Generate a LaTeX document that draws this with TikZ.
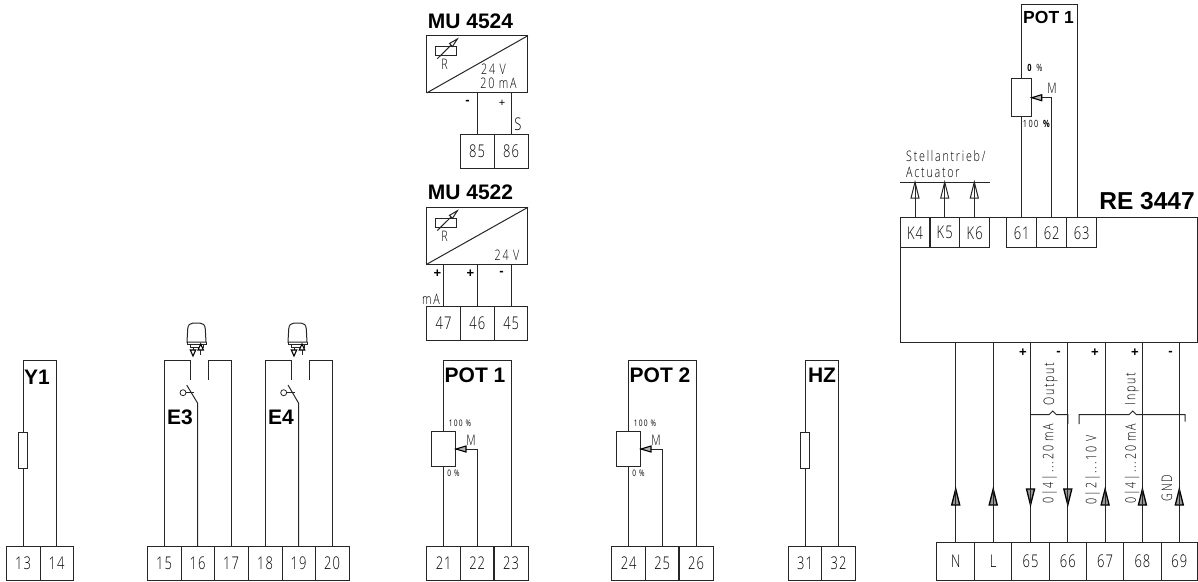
\documentclass[tikz,border=0pt]{standalone}
\usepackage{fontspec}
\setmainfont{Liberation Sans}
\newfontfamily\din[FakeStretch=0.74,LetterSpace=6]{Open Sans Light}
\newfontfamily\dinw[FakeStretch=0.74,LetterSpace=12]{Open Sans Light}
\newfontfamily\dinb[FakeStretch=0.74,LetterSpace=14]{Open Sans}
\begin{document}
\begin{tikzpicture}[x=1pt,y=-1pt,
  wire/.style={line width=1pt,color=black!85,line join=miter},
  term/.style={draw=black!85,line width=1pt,inner sep=0pt,outer sep=0pt,font=\din\fontsize{17.5}{18}\selectfont},
  part/.style={draw=black!85,line width=1pt,inner sep=0pt,outer sep=0pt,fill=white},
  title/.style={inner sep=0pt,font=\bfseries\fontsize{21}{22}\selectfont},
  small/.style={inner sep=0pt,font=\dinw\fontsize{14.5}{15}\selectfont},
  tiny/.style={inner sep=0pt,font=\dinb\fontsize{9}{9}\selectfont},
  sign/.style={inner sep=0pt,font=\bfseries\fontsize{13}{13}\selectfont},
  rot/.style={inner sep=0pt,rotate=90,font=\dinw\fontsize{14.5}{15}\selectfont},
  tip/.style={line width=1.3pt,color=black,line join=miter,fill=black!40},
  tipfine/.style={line width=1.1pt,color=black,line join=miter,fill=black!30}]
\useasboundingbox (0,0) rectangle (1198,581);
\newcommand{\mkterm}[6]{\node[term,minimum width=#3,minimum height=#4] (#1) at (#5,#6) {#2};}
\newcommand{\tup}[2]{\draw[tip] (#1,#2) -- ++(4,16) -- ++(-8,0) -- cycle; \draw[wire] (#1,#2) -- ++(0,16);}
\newcommand{\tdn}[2]{\draw[tip] (#1,#2) -- ++(4,-16) -- ++(-8,0) -- cycle; \draw[wire] (#1,#2) -- ++(0,-16);}
\newcommand{\tupthin}[2]{\draw[wire] (#1,#2) -- ++(4,16) -- ++(-8,0) -- cycle;}
\newcommand{\tlf}[2]{\draw[tipfine] (#1,#2) -- ++(10,-3) -- ++(0,6) -- cycle;}

% ---- Y1
\mkterm{t13}{13}{34}{34}{23}{563}
\mkterm{t14}{14}{33}{34}{56.5}{563}
\coordinate (y1a) at (23,360); \coordinate (y1b) at (56.5,360);
\node[part,minimum width=9,minimum height=36] (ry1) at (23,450) {};
\draw[wire] (t13.north) -- (ry1.south) (ry1.north) -- (y1a) -- (y1b) -- (t14.north);
\node[title] (ly1) at (37,377) {Y1};

% ---- E3 / E4 strip
\mkterm{t15}{15}{34}{34}{164}{563}
\mkterm{t16}{16}{33}{34}{197.5}{563}
\mkterm{t17}{17}{34}{34}{231}{563}
\mkterm{t18}{18}{34}{34}{265}{563}
\mkterm{t19}{19}{33}{34}{298.5}{563}
\mkterm{t20}{20}{34}{34}{332}{563}
\coordinate (e3a) at (164,360); \coordinate (e3b) at (190,360); \coordinate (e3c) at (190,380);
\coordinate (e3d) at (208.5,380); \coordinate (e3e) at (208.5,360); \coordinate (e3f) at (231,360);
\coordinate (e3s) at (197.5,403); \coordinate (e3t) at (186.7,385);
\draw[wire] (t15.north) -- (e3a) -- (e3b) -- (e3c);
\draw[wire] (e3d) -- (e3e) -- (e3f) -- (t17.north);
\draw[wire] (t16.north) -- (e3s) -- (e3t);
\node[draw=black!85,line width=0.8pt,circle,minimum size=6,inner sep=0,outer sep=0] (c3) at (183,392.7) {};
\coordinate (c3e) at (194.3,392.7); \draw[wire] (c3) -- (c3e);
\node[title] (le3) at (180,417) {E3};

\coordinate (e4a) at (265,360); \coordinate (e4b) at (291,360); \coordinate (e4c) at (291,380);
\coordinate (e4d) at (309.7,380); \coordinate (e4e) at (309.7,360); \coordinate (e4f) at (332,360);
\coordinate (e4s) at (298.5,403); \coordinate (e4t) at (288,385);
\draw[wire] (t18.north) -- (e4a) -- (e4b) -- (e4c);
\draw[wire] (e4d) -- (e4e) -- (e4f) -- (t20.north);
\draw[wire] (t19.north) -- (e4s) -- (e4t);
\node[draw=black!85,line width=0.8pt,circle,minimum size=6,inner sep=0,outer sep=0] (c4) at (283.7,392.7) {};
\coordinate (c4e) at (295,392.7); \draw[wire] (c4) -- (c4e);
\node[title] (le4) at (281,417) {E4};

% rocker icons
\foreach \ox/\a/\b in {0/193/200.7, 101/294/302}{
 \begin{scope}[xshift=\ox pt]
  \draw[wire] (187,342) -- (187.7,329) .. controls (188,325) and (190,323) .. (193,323) -- (200,323) .. controls (203,323) and (205,325) .. (205.3,329) -- (206,342) -- cycle;
  \draw[wire] (187,342) -- (187,344) -- (206,344) -- (206,342);
  \draw[wire] (190,344) -- (190,347) -- (203,347) -- (203,344);
 \end{scope}
 \draw[wire] (\a,347) -- ++(0,5);
 \draw[tipfine,fill=white] (\a,356) -- ++(2.7,-6) -- ++(-5.4,0) -- cycle;
 \draw[wire] (\b,350) -- ++(0,5);
 \draw[tipfine,fill=white] (\b,344) -- ++(2.7,6) -- ++(-5.4,0) -- cycle;
}

% ---- POT 1 lower
\mkterm{t21}{21}{33.5}{34}{443.7}{563}
\mkterm{t22}{22}{33.5}{34}{477.2}{563}
\mkterm{t23}{23}{34}{34}{511}{563}
\node[part,minimum width=24,minimum height=35] (p1) at (443.7,449.3) {};
\coordinate (p1a) at (443.7,360); \coordinate (p1b) at (511,360); \coordinate (p1w) at (477.2,449);
\draw[wire] (t21.north) -- (p1.south) (p1.north) -- (p1a) -- (p1b) -- (t23.north);
\draw[wire] (t22.north) -- (p1w) -- (p1.east |- p1w);
\tlf{456}{449}
\node[title] (l1) at (475,375) {POT 1};
\node[tiny] (p1h) at (460,423) {100 \%};
\node[tiny] (p1l) at (453.5,473) {0 \%};
\node[small] (p1m) at (471,440) {M};

% ---- POT 2
\mkterm{t24}{24}{33.5}{34}{628.7}{563}
\mkterm{t25}{25}{33.5}{34}{662.2}{563}
\mkterm{t26}{26}{34}{34}{696}{563}
\node[part,minimum width=24,minimum height=35] (p2) at (628.7,449.3) {};
\coordinate (p2a) at (628.7,360); \coordinate (p2b) at (696,360); \coordinate (p2w) at (662.2,449);
\draw[wire] (t24.north) -- (p2.south) (p2.north) -- (p2a) -- (p2b) -- (t26.north);
\draw[wire] (t25.north) -- (p2w) -- (p2.east |- p2w);
\tlf{641}{449}
\node[title] (l2) at (660,375) {POT 2};
\node[tiny] (p2h) at (645,423) {100 \%};
\node[tiny] (p2l) at (638.5,473) {0 \%};
\node[small] (p2m) at (656,440) {M};

% ---- HZ
\mkterm{t31}{31}{33.5}{34}{805}{563}
\mkterm{t32}{32}{33.5}{34}{838.5}{563}
\coordinate (hza) at (805,360); \coordinate (hzb) at (838.5,360);
\node[part,minimum width=9,minimum height=36] (rhz) at (805,450) {};
\draw[wire] (t31.north) -- (rhz.south) (rhz.north) -- (hza) -- (hzb) -- (t32.north);
\node[title] (lhz) at (822,375) {HZ};

% ---- MU 4524
\node[title] (m1) at (470.5,21) {MU 4524};
\node[part,fill=none,minimum width=101.3,minimum height=57.3] (mb1) at (477.3,64.3) {};
\draw[wire] (mb1.south west) -- (mb1.north east);
\mkterm{t85}{85}{34}{34}{477}{151.5}
\mkterm{t86}{86}{34}{34}{511}{151.5}
\draw[wire] (t85.north) -- (t85.north |- mb1.south);
\draw[wire] (t86.north) -- (t86.north |- mb1.south);
\node[part,fill=none,minimum width=20.5,minimum height=9] (r1) at (446,50.8) {};
\coordinate (r1a) at (437.3,58.7); \coordinate (r1b) at (457.3,39);
\draw[wire] (r1a) -- (r1b);
\draw[wire,fill=white] (457.3,39) -- (449.5,43.5) -- (452.5,46.5) -- cycle;
\node[small] (r1r) at (444.5,64.5) {R};
\node[small] (v1) at (493.5,69) {24 V};
\node[small] (a1) at (498.5,83) {20 mA};
\node[sign] (s1) at (467.5,102.5) {-};
\node[sign,font=\fontsize{11}{11}\selectfont] (s2) at (502,103.5) {+};
\node[term,draw=none] (s3) at (518,124.5) {S};

% ---- MU 4522
\node[title] (m2) at (470.5,192) {MU 4522};
\node[part,fill=none,minimum width=101.3,minimum height=57] (mb2) at (477.3,235.8) {};
\draw[wire] (mb2.south west) -- (mb2.north east);
\mkterm{t47}{47}{33.5}{34}{443.5}{323}
\mkterm{t46}{46}{34}{34}{477.3}{323}
\mkterm{t45}{45}{33.5}{34}{511.2}{323}
\draw[wire] (t47.north) -- (t47.north |- mb2.south);
\draw[wire] (t46.north) -- (t46.north |- mb2.south);
\draw[wire] (t45.north) -- (t45.north |- mb2.south);
\node[part,fill=none,minimum width=20.5,minimum height=9] (r2) at (446,222.5) {};
\coordinate (r2a) at (437.3,230.5); \coordinate (r2b) at (457.3,210.8);
\draw[wire] (r2a) -- (r2b);
\draw[wire,fill=white] (457.3,210.8) -- (449.5,215.3) -- (452.5,218.3) -- cycle;
\node[small] (r2r) at (444.5,236) {R};
\node[small] (v2) at (507,255) {24 V};
\node[sign] (q1) at (437.5,274) {+};
\node[sign] (q2) at (470.5,274) {+};
\node[sign] (q3) at (501.5,273) {-};
\node[small] (ma) at (431,299) {mA};

% ---- RE 3447
\node[title,font=\bfseries\fontsize{24.5}{25}\selectfont] (re) at (1147,201) {RE 3447};
\node[part,fill=none,minimum width=297,minimum height=125] (rb) at (1048.5,280.2) {};
\mkterm{k4}{K4}{30}{30.3}{915}{232.8}
\mkterm{k5}{K5}{30}{30.3}{944.7}{232.8}
\mkterm{k6}{K6}{30}{30.3}{974.7}{232.8}
\mkterm{t61}{61}{30}{30.3}{1021.7}{232.8}
\mkterm{t62}{62}{30}{30.3}{1051.7}{232.8}
\mkterm{t63}{63}{30}{30.3}{1081.7}{232.8}
\coordinate (acl) at (900,182); \coordinate (acr) at (989.7,182);
\draw[wire] (acl) -- (acr);
\draw[wire] (k4.north) -- (k4.north |- acl);
\draw[wire] (k5.north) -- (k5.north |- acl);
\coordinate (k6u) at (974.3,217.7); \draw[wire] (k6u) -- (k6u |- acl);
\tupthin{915}{182} \tupthin{944.7}{182} \tupthin{974.3}{182}
\node[small,anchor=west] (act1) at (906,156) {Stellantrieb/};
\node[small,anchor=west] (act2) at (906,172) {Actuator};

\node[part,minimum width=20,minimum height=38] (p3) at (1021.7,97.7) {};
\coordinate (p3a) at (1021.7,4.7); \coordinate (p3b) at (1077.7,4.7);
\coordinate (p3w) at (1051.3,97.7); \coordinate (p3c) at (1077.7,217.7);
\draw[wire] (t61.north) -- (p3.south) (p3.north) -- (p3a) -- (p3b) -- (p3c);
\coordinate (p3d) at (1051.3,217.7);
\draw[wire] (p3d) -- (p3w) -- (p3.east |- p3w);
\tlf{1031.7}{97.7}
\node[title,font=\bfseries\fontsize{17.5}{18}\selectfont] (l3) at (1048.5,17) {POT 1};
\node[tiny,font=\dinb\fontsize{10}{10}\selectfont] (p3l) at (1035,68) {\textbf{0} \%};
\node[tiny,font=\dinb\fontsize{10}{10}\selectfont] (p3h) at (1037,124) {100 \textbf{\%}};
\node[small] (p3m) at (1052,88) {M};

% ---- lower strip
\mkterm{tn}{N}{37.5}{38}{955.7}{561}
\mkterm{tl}{L}{37.3}{38}{993.2}{561}
\mkterm{t65}{65}{37.3}{38}{1030.5}{561}
\mkterm{t66}{66}{37.3}{38}{1067.8}{561}
\mkterm{t67}{67}{37.3}{38}{1105.1}{561}
\mkterm{t68}{68}{37.3}{38}{1142.4}{561}
\mkterm{t69}{69}{36.5}{38}{1179.3}{561}
\foreach \n in {tn,tl,t65,t66,t67,t68,t69}{
  \draw[wire] (\n.north) -- (\n.north |- rb.south);
}
\tup{955.7}{489} \tup{993.2}{489}
\tdn{1030.5}{505} \tdn{1067.8}{505}
\tup{1105.1}{489} \tup{1142.4}{489} \tup{1179.3}{489}

\coordinate (oa) at (1030.5,414.7); \coordinate (ob) at (1067.8,414.7); \coordinate (oc) at (1067.8,424);
\draw[wire] (oa) -- (1049,414.7) -- (1052.7,411) -- (1056.4,414.7) -- (ob) -- (oc);
\coordinate (ia) at (1079,424); \coordinate (ib) at (1185,421.7);
\draw[wire] (ia) -- (1079,414.7) -- (1129,414.7) -- (1132.7,411) -- (1136.4,414.7) -- (1185,414.7) -- (ib);

\node[rot] (to) at (1050.5,384) {Output};
\node[rot] (ti) at (1132,389) {Input};
\node[rot] (r1t) at (1049.5,463.5) {0|4|...20 mA};
\node[rot] (r2t) at (1092.7,470) {0|2|...10 V};
\node[rot] (r3t) at (1132,463.5) {0|4|...20 mA};
\node[rot] (r4t) at (1167,488) {GND};
\node[sign] (g1) at (1023,353) {+};
\node[sign] (g2) at (1058.5,353) {-};
\node[sign] (g3) at (1095,353) {+};
\node[sign] (g4) at (1135,353) {+};
\node[sign] (g5) at (1170.5,353) {-};
\end{tikzpicture}
\end{document}
